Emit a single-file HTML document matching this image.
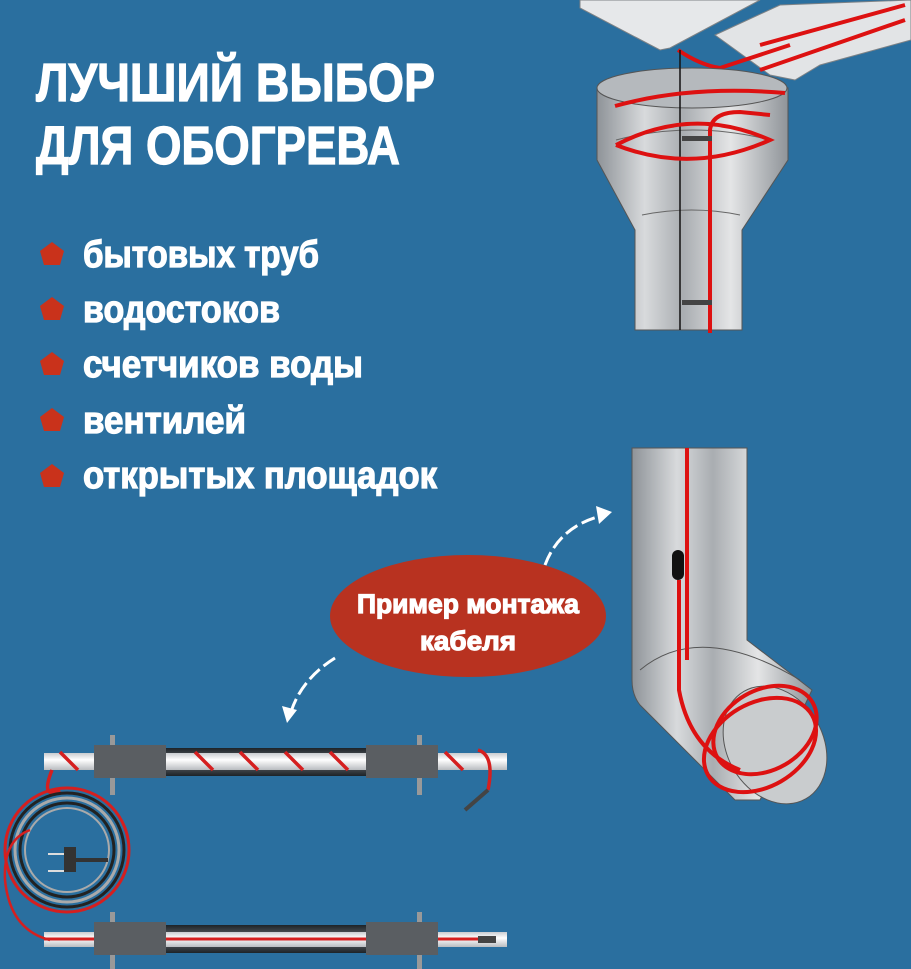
<!DOCTYPE html>
<html><head><meta charset="utf-8"><style>
html,body{margin:0;padding:0;background:#2a6f9f;}
svg{display:block}
text{font-family:"Liberation Sans",sans-serif;font-weight:bold;fill:#fff;stroke:#fff;stroke-width:1.2}
</style></head><body>
<svg width="911" height="969" viewBox="0 0 911 969" xmlns="http://www.w3.org/2000/svg">
<defs>
<linearGradient id="metal" x1="0" x2="1" y1="0" y2="0">
<stop offset="0" stop-color="#8e9398"/><stop offset="0.25" stop-color="#d8dadc"/><stop offset="0.45" stop-color="#a9adb1"/><stop offset="0.7" stop-color="#e4e5e6"/><stop offset="1" stop-color="#8f9499"/>
</linearGradient>
<linearGradient id="sleeve" x1="0" x2="0" y1="0" y2="1">
<stop offset="0" stop-color="#1d2328"/><stop offset="0.5" stop-color="#6a6e72"/><stop offset="1" stop-color="#1d2328"/>
</linearGradient>
<linearGradient id="white" x1="0" x2="0" y1="0" y2="1">
<stop offset="0" stop-color="#c9ccd0"/><stop offset="0.4" stop-color="#ffffff"/><stop offset="1" stop-color="#b9bcc0"/>
</linearGradient>
</defs>
<rect width="911" height="969" fill="#2a6f9f"/>

<!-- Title -->
<text x="36" y="101" font-size="54" textLength="399" lengthAdjust="spacingAndGlyphs">ЛУЧШИЙ ВЫБОР</text>
<text x="36" y="164" font-size="54" textLength="364" lengthAdjust="spacingAndGlyphs">ДЛЯ ОБОГРЕВА</text>

<!-- bullets -->
<g fill="#c9321b">
<polygon points="52,242 64,251 60,265 44,265 40,251"/>
<polygon points="52,297 64,306 60,320 44,320 40,306"/>
<polygon points="52,352 64,361 60,375 44,375 40,361"/>
<polygon points="52,408 64,417 60,431 44,431 40,417"/>
<polygon points="52,464 64,473 60,487 44,487 40,473"/>
</g>
<text x="83" y="267" font-size="38" textLength="236" lengthAdjust="spacingAndGlyphs">бытовых труб</text>
<text x="83" y="322" font-size="38" textLength="197" lengthAdjust="spacingAndGlyphs">водостоков</text>
<text x="83" y="377" font-size="38" textLength="280" lengthAdjust="spacingAndGlyphs">счетчиков воды</text>
<text x="83" y="433" font-size="38" textLength="163" lengthAdjust="spacingAndGlyphs">вентилей</text>
<text x="83" y="488" font-size="38" textLength="354" lengthAdjust="spacingAndGlyphs">открытых площадок</text>

<!-- Top illustration: roof and gutter -->
<polygon points="580,0 760,0 670,48 660,50 580,8" fill="#e6e8ea" stroke="#7d8286"/>
<polygon points="715,35 780,5 911,0 911,40 820,65 795,80 770,75" fill="#e2e4e6" stroke="#7d8286"/>
<path d="M678,50 Q700,65 720,68 L790,45" stroke="#d11" stroke-width="4" fill="none"/>
<path d="M760,45 L905,5 M760,70 L905,20" stroke="#d11" stroke-width="4" fill="none"/>
<!-- funnel -->
<path d="M597,88 Q690,55 788,88 L788,160 L742,230 L742,330 L635,330 L635,230 L597,160 Z" fill="url(#metal)" stroke="#555"/>
<ellipse cx="692" cy="88" rx="95" ry="20" fill="#b5b9bd" stroke="#555"/>
<path d="M616,140 Q692,120 770,140" stroke="#666" fill="none"/>
<path d="M642,215 Q692,205 740,215" stroke="#666" fill="none"/>
<line x1="680" y1="50" x2="680" y2="330" stroke="#111" stroke-width="1.5"/>
<path d="M615,106 Q690,85 785,93" stroke="#d11" stroke-width="4" fill="none"/>
<path d="M616,145 Q692,175 770,140 Q692,105 616,145" stroke="#d11" stroke-width="4" fill="none"/>
<path d="M710,333 L710,130 Q712,112 740,112 L770,115" stroke="#d11" stroke-width="4" fill="none"/>
<rect x="682" y="136" width="30" height="5" fill="#444"/>
<rect x="682" y="300" width="30" height="5" fill="#444"/>

<!-- Elbow -->
<path d="M632,448 L747,448 L747,640 L812,690 L760,800 L735,800 L640,705 Q632,695 632,680 Z" fill="url(#metal)" stroke="#555"/>
<path d="M640,670 Q700,620 800,680" stroke="#555" fill="none"/>
<ellipse cx="775" cy="745" rx="48" ry="62" transform="rotate(-30 775 745)" fill="#c9ccce" stroke="#555"/>
<line x1="687" y1="448" x2="687" y2="660" stroke="#d11" stroke-width="4"/>
<path d="M679,580 L679,690 Q690,750 740,770" stroke="#d11" stroke-width="4" fill="none"/>
<rect x="672" y="550" width="12" height="30" rx="6" fill="#111"/>
<ellipse cx="765" cy="730" rx="55" ry="40" transform="rotate(-30 765 730)" fill="none" stroke="#d11" stroke-width="4"/>
<ellipse cx="760" cy="745" rx="60" ry="42" transform="rotate(-30 760 745)" fill="none" stroke="#d11" stroke-width="4"/>

<!-- label oval -->
<ellipse cx="468" cy="616" rx="138" ry="61" fill="#b83220"/>
<text x="468" y="613" font-size="27" text-anchor="middle" textLength="222" lengthAdjust="spacingAndGlyphs" stroke-width="0.6">Пример монтажа</text>
<text x="468" y="650" font-size="27" text-anchor="middle" textLength="96" lengthAdjust="spacingAndGlyphs" stroke-width="0.6">кабеля</text>
<!-- arrows -->
<path d="M545,565 Q560,525 605,515" stroke="#fff" stroke-width="3" fill="none" stroke-dasharray="14 5"/>
<polygon points="612,512 596,506 599,524" fill="#fff"/>
<path d="M335,658 Q300,680 290,715" stroke="#fff" stroke-width="3" fill="none" stroke-dasharray="14 5"/>
<polygon points="287,723 282,706 297,710" fill="#fff"/>

<!-- bottom pipes -->
<rect x="110" y="735" width="5" height="60" fill="#999"/>
<rect x="417" y="735" width="5" height="60" fill="#999"/>
<rect x="166" y="748" width="200" height="28" fill="url(#sleeve)"/>
<rect x="44" y="753" width="463" height="17" fill="url(#white)"/>
<rect x="94" y="745" width="72" height="33" fill="#5a5e62"/>
<rect x="366" y="745" width="72" height="33" fill="#5a5e62"/>
<g stroke="#d51f1f" stroke-width="3.5" fill="none">
<path d="M60,752 L78,770 M195,752 L213,770 M240,752 L258,770 M285,752 L303,770 M330,752 L348,770 M445,752 L463,770 M478,750 Q495,755 488,790"/>
<path d="M52,770 Q40,800 60,790"/>
</g>
<line x1="488" y1="790" x2="465" y2="810" stroke="#444" stroke-width="4"/>

<rect x="110" y="912" width="5" height="57" fill="#999"/>
<rect x="417" y="912" width="5" height="57" fill="#999"/>
<rect x="166" y="925" width="200" height="28" fill="url(#sleeve)"/>
<rect x="44" y="932" width="463" height="15" fill="url(#white)"/>
<line x1="44" y1="939" x2="480" y2="939" stroke="#d51f1f" stroke-width="3"/>
<rect x="478" y="936" width="18" height="7" fill="#444"/>
<rect x="94" y="922" width="72" height="33" fill="#5a5e62"/>
<rect x="366" y="922" width="72" height="33" fill="#5a5e62"/>

<!-- coil -->
<circle cx="67" cy="850" r="62" fill="none" stroke="#d51f1f" stroke-width="3"/>
<circle cx="67" cy="850" r="57" fill="none" stroke="#222" stroke-width="3"/>
<circle cx="67" cy="850" r="52" fill="none" stroke="#aaa" stroke-width="3"/>
<circle cx="67" cy="850" r="47" fill="none" stroke="#222" stroke-width="3"/>
<circle cx="67" cy="850" r="42" fill="none" stroke="#aaa" stroke-width="2"/>
<path d="M50,940 Q10,930 5,880 Q3,840 30,830" stroke="#d51f1f" stroke-width="2.5" fill="none"/>
<rect x="64" y="847" width="12" height="25" fill="#333"/>
<line x1="76" y1="860" x2="108" y2="860" stroke="#333" stroke-width="4"/>
<line x1="48" y1="854" x2="64" y2="854" stroke="#ddd" stroke-width="2"/>
<line x1="48" y1="871" x2="64" y2="871" stroke="#ddd" stroke-width="2"/>
</svg>
</body></html>
